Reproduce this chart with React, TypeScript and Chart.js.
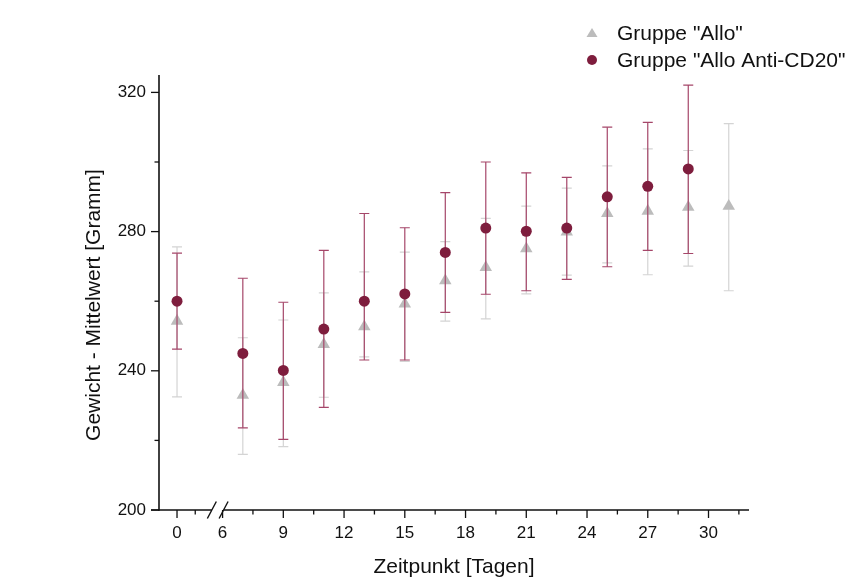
import { useEffect, useRef } from 'react';
import { Chart, registerables } from 'chart.js';

Chart.register(...registerables);

// ---- data ----
const alloDays = [0, 7, 9, 11, 13, 15, 17, 19, 21, 23, 25, 27, 29, 31];
const alloMean = [254.3, 233.0, 236.7, 247.6, 252.7, 259.2, 265.9, 269.7, 275.1, 279.9, 285.2, 285.9, 287.0, 287.3];
const alloUpper = [275.6, 249.5, 254.6, 262.4, 268.4, 274.1, 277.1, 283.8, 287.3, 292.5, 298.9, 303.8, 303.3, 311.0];
const alloLower = [232.5, 216.0, 218.2, 232.4, 244.0, 242.7, 254.3, 254.9, 262.1, 267.5, 271.0, 267.6, 270.1, 263.0];

const cd20Days = [0, 7, 9, 11, 13, 15, 17, 19, 21, 23, 25, 27, 29];
const cd20Mean = [260.0, 245.0, 240.1, 252.0, 260.0, 262.1, 274.0, 281.0, 280.1, 281.0, 290.0, 293.0, 298.0];
const cd20Upper = [273.8, 266.6, 259.7, 274.6, 285.2, 281.1, 291.2, 300.0, 296.9, 295.6, 310.0, 311.4, 322.1];
const cd20Lower = [246.2, 223.6, 220.3, 229.5, 243.1, 243.1, 256.8, 262.0, 263.0, 266.3, 269.9, 274.6, 273.7];

const xMajorDays = [0, 6, 9, 12, 15, 18, 21, 24, 27, 30];
const xMinorDays = [0.9, 7.5, 10.5, 13.5, 16.5, 19.5, 22.5, 25.5, 28.5, 31.5];
const yMajor = [200, 240, 280, 320];
const yMinor = [220, 260, 300];

const legendLabels = ['Gruppe "Allo"', 'Gruppe "Allo Anti-CD20"'];
const xTitle = 'Zeitpunkt [Tagen]';
const yTitle = 'Gewicht - Mittelwert [Gramm]';

// axis break: days before the break are shifted right
const BREAK_DAY = 6;
const PRE_BREAK_SHIFT = 3.75;
const toAxis = (d: number) => (d >= BREAK_DAY ? d : d + PRE_BREAK_SHIFT);
const BREAK_LEFT = 5.47;
const BREAK_RIGHT = 6.05;

const FONT = '"Liberation Sans", Arial, Helvetica, sans-serif';
const RED = '#7e1d3d';
const RED_BAR = 'rgb(165, 70, 105)';
const GRAY = '#bcbcbc';
const GRAY_BAR = 'rgb(212, 212, 212)';
const AXIS = '#111111';

const errorSets = [
  { upper: cd20Upper, lower: cd20Lower, color: RED_BAR },
  { upper: alloUpper, lower: alloLower, color: GRAY_BAR },
];

export default function App() {
  const ref = useRef<HTMLCanvasElement>(null);

  useEffect(() => {
    const canvas = ref.current;
    if (!canvas) return;

    const decor = {
      id: 'decor',
      beforeDatasetDraw(chart: any, args: any) {
        const set = errorSets[args.index];
        if (!set) return;
        const ds = chart.data.datasets[args.index];
        const xs = chart.scales.x;
        const ys = chart.scales.y;
        const ctx = chart.ctx;
        ctx.save();
        ctx.globalAlpha = 1;
        ctx.globalCompositeOperation = 'source-over';
        ctx.strokeStyle = set.color;
        ctx.lineWidth = 1.2;
        ds.data.forEach((p: any, i: number) => {
          const x = xs.getPixelForValue(p.x);
          const yt = ys.getPixelForValue(set.upper[i]);
          const yb = ys.getPixelForValue(set.lower[i]);
          ctx.beginPath();
          ctx.moveTo(x, yt);
          ctx.lineTo(x, yb);
          ctx.stroke();
          ctx.beginPath();
          ctx.moveTo(x - 5, yt);
          ctx.lineTo(x + 5, yt);
          ctx.moveTo(x - 5, yb);
          ctx.lineTo(x + 5, yb);
          ctx.stroke();
        });
        ctx.restore();
      },
      afterDraw(chart: any) {
        const ctx = chart.ctx;
        const xs = chart.scales.x;
        const ys = chart.scales.y;
        const { left, right, top, bottom } = chart.chartArea;
        ctx.save();
        ctx.strokeStyle = AXIS;
        ctx.lineWidth = 1.6;
        // y axis line
        ctx.beginPath();
        ctx.moveTo(left, top);
        ctx.lineTo(left, bottom + 0.8);
        ctx.stroke();
        // x axis line with break
        const bL = xs.getPixelForValue(BREAK_LEFT);
        const bR = xs.getPixelForValue(BREAK_RIGHT);
        ctx.beginPath();
        ctx.moveTo(left - 8, bottom);
        ctx.lineTo(bL, bottom);
        ctx.moveTo(bR, bottom);
        ctx.lineTo(right, bottom);
        ctx.stroke();
        // break slashes
        ctx.lineWidth = 1.4;
        [bL, bR].forEach((bx) => {
          ctx.beginPath();
          ctx.moveTo(bx - 4.5, bottom + 8.5);
          ctx.lineTo(bx + 4.5, bottom - 8.5);
          ctx.stroke();
        });
        ctx.lineWidth = 1.3;
        // x ticks
        xMajorDays.forEach((d) => {
          const x = xs.getPixelForValue(toAxis(d));
          ctx.beginPath();
          ctx.moveTo(x, bottom);
          ctx.lineTo(x, bottom + 8);
          ctx.stroke();
        });
        xMinorDays.forEach((d) => {
          const x = xs.getPixelForValue(toAxis(d));
          ctx.beginPath();
          ctx.moveTo(x, bottom);
          ctx.lineTo(x, bottom + 4.5);
          ctx.stroke();
        });
        // y ticks
        yMajor.forEach((v) => {
          const y = ys.getPixelForValue(v);
          ctx.beginPath();
          ctx.moveTo(left - 8, y);
          ctx.lineTo(left, y);
          ctx.stroke();
        });
        yMinor.forEach((v) => {
          const y = ys.getPixelForValue(v);
          ctx.beginPath();
          ctx.moveTo(left - 4.5, y);
          ctx.lineTo(left, y);
          ctx.stroke();
        });

        // axis titles
        ctx.fillStyle = '#111';
        ctx.font = `21px ${FONT}`;
        ctx.textAlign = 'center';
        ctx.textBaseline = 'middle';
        ctx.fillText(xTitle, (left + right) / 2, 567);
        ctx.save();
        ctx.translate(94, 305);
        ctx.rotate(-Math.PI / 2);
        ctx.fillText(yTitle, 0, 0);
        ctx.restore();

        // legend
        ctx.textAlign = 'left';
        ctx.font = `21px ${FONT}`;
        const lx = 592;
        const ly = [33, 60];
        ctx.fillStyle = GRAY;
        ctx.beginPath();
        ctx.moveTo(lx, ly[0] - 5);
        ctx.lineTo(lx + 5.5, ly[0] + 4);
        ctx.lineTo(lx - 5.5, ly[0] + 4);
        ctx.closePath();
        ctx.fill();
        ctx.fillStyle = RED;
        ctx.beginPath();
        ctx.arc(lx, ly[1], 5, 0, Math.PI * 2);
        ctx.fill();
        ctx.fillStyle = '#111';
        ctx.fillText(legendLabels[0], 617, ly[0] + 1);
        ctx.fillText(legendLabels[1], 617, ly[1] + 1);
        ctx.restore();
      },
    };

    const chart = new Chart(canvas, {
      type: 'scatter',
      data: {
        datasets: [
          {
            label: legendLabels[1],
            data: cd20Days.map((d, i) => ({ x: toAxis(d), y: cd20Mean[i] })),
            pointStyle: 'circle',
            pointRadius: 5.5,
            pointBorderWidth: 0,
            backgroundColor: RED,
            borderColor: RED,
          },
          {
            label: legendLabels[0],
            data: alloDays.map((d, i) => ({ x: toAxis(d), y: alloMean[i] })),
            pointStyle: 'triangle',
            pointRadius: 7.2,
            pointBorderWidth: 0,
            backgroundColor: GRAY,
            borderColor: GRAY,
          },
        ],
      },
      options: {
        responsive: false,
        animation: false,
        devicePixelRatio: 1,
        layout: { padding: { top: 75, right: 100, bottom: 0, left: 0 } },
        plugins: {
          legend: { display: false },
          tooltip: { enabled: false },
        },
        scales: {
          x: {
            type: 'linear',
            min: 2.86,
            max: 32,
            grid: { display: false, drawTicks: false },
            border: { display: false },
            afterBuildTicks: (s: any) => {
              s.ticks = xMajorDays.map((d) => ({ value: toAxis(d) }));
            },
            afterFit: (s: any) => {
              s.height = 78;
            },
            ticks: {
              autoSkip: false,
              maxRotation: 0,
              padding: 13,
              color: '#111',
              font: { family: FONT, size: 17 },
              callback: (v: any) => {
                const d = xMajorDays.find((k) => Math.abs(toAxis(k) - Number(v)) < 1e-6);
                return d === undefined ? '' : String(d);
              },
            },
          },
          y: {
            type: 'linear',
            min: 200,
            max: 325,
            grid: { display: false, drawTicks: false },
            border: { display: false },
            afterBuildTicks: (s: any) => {
              s.ticks = yMajor.map((v) => ({ value: v }));
            },
            afterFit: (s: any) => {
              s.width = 159;
            },
            ticks: {
              padding: 13,
              color: '#111',
              font: { family: FONT, size: 17 },
            },
          },
        },
      },
      plugins: [decor],
    });

    return () => chart.destroy();
  }, []);

  return (
    <div style={{ position: 'fixed', left: 0, top: 0, width: 849, height: 588, background: '#fff' }}>
      <canvas ref={ref} width={849} height={588} />
    </div>
  );
}
